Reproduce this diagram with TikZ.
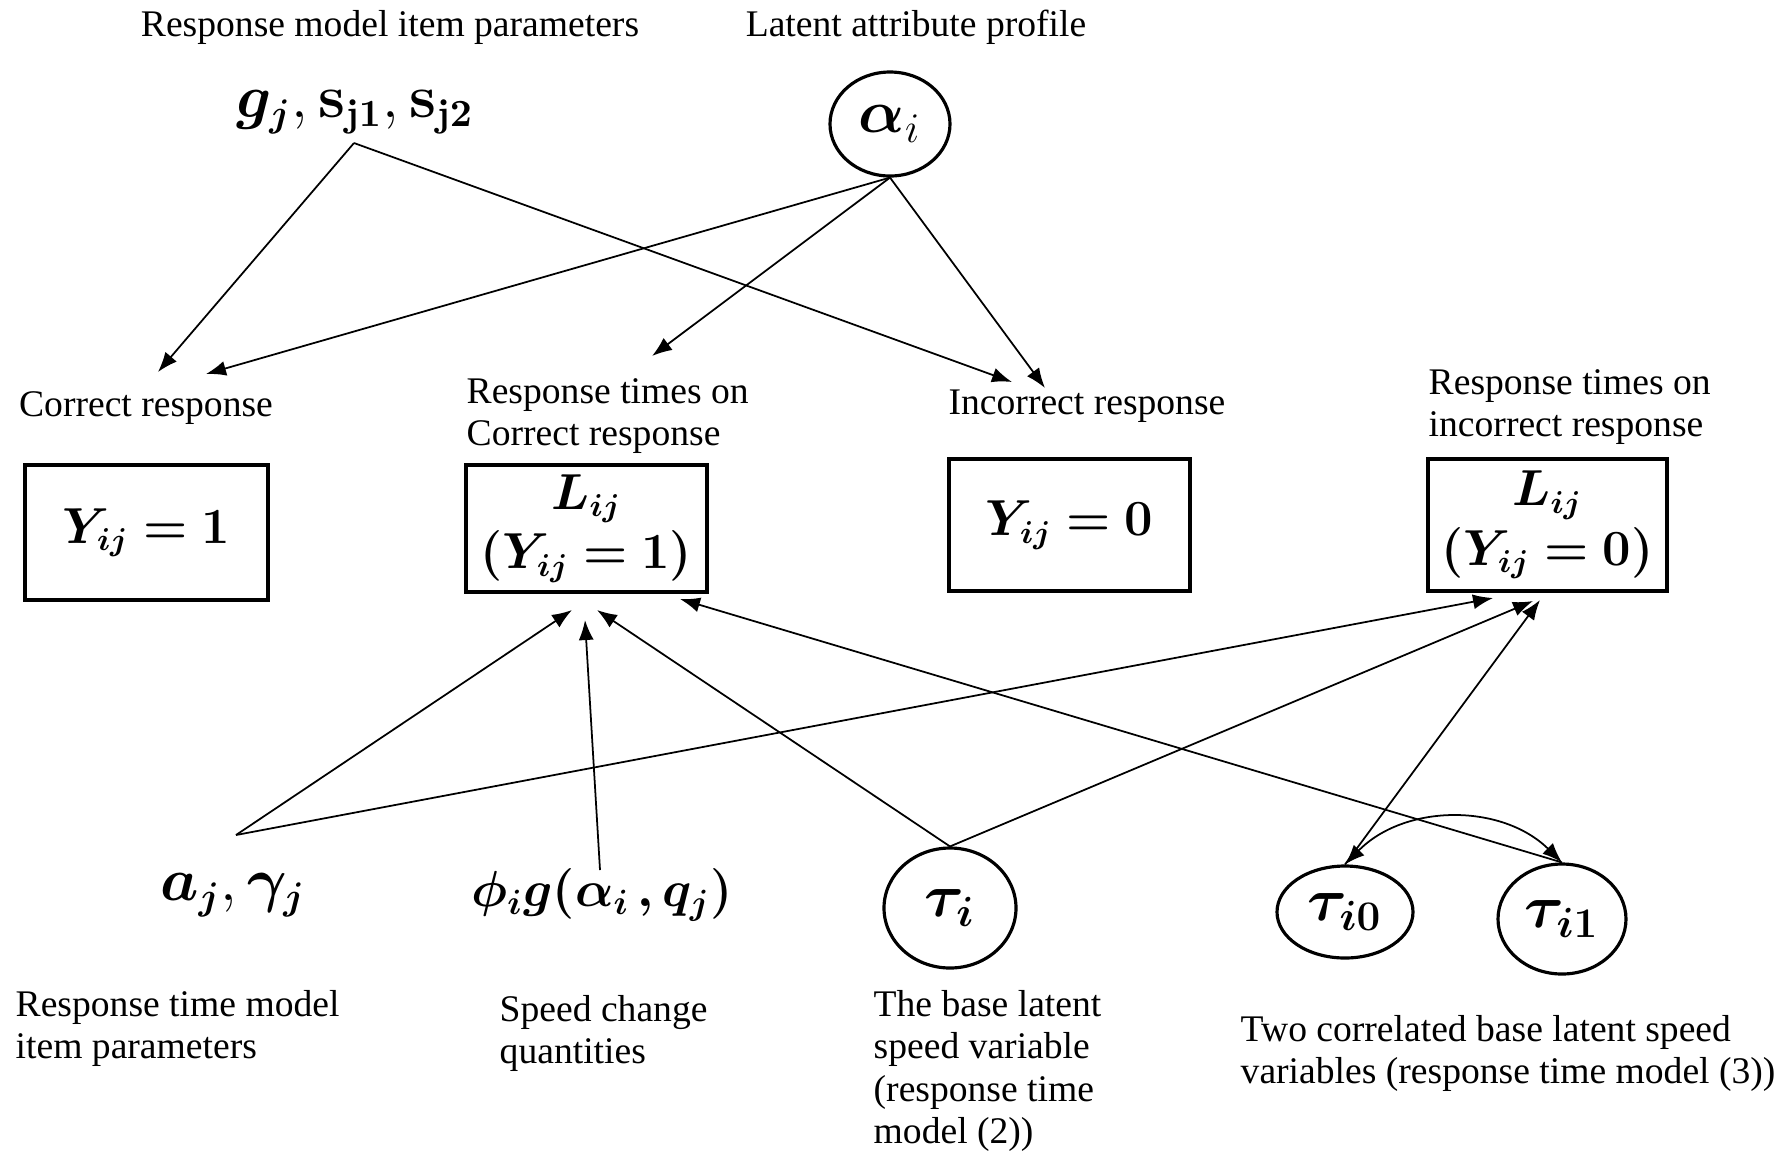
\documentclass[tikz,border=0pt]{standalone}
\usepackage[no-math]{fontspec}
\setmainfont{Liberation Serif}
\usepackage{bm}
\usetikzlibrary{arrows.meta,shapes.geometric}

\begin{document}
\begin{tikzpicture}[x=1cm,y=1cm,>={Latex[length=2mm,width=1.5mm]},
    lbl/.style={font=\fontsize{10.7}{12}\selectfont, inner sep=0pt, align=left},
    sym/.style={font=\fontsize{16}{19}\selectfont, inner sep=0pt},
    latent/.style={ellipse, draw, line width=0.9pt, inner sep=0pt, font=\fontsize{18.5}{21}\selectfont},
    obsbox/.style={draw, line width=1pt, inner sep=0pt, align=center, font=\fontsize{13.5}{17}\selectfont},
    link/.style={->, line width=0.5pt}]
    \useasboundingbox (0,0) rectangle (17.78,-11.51);

    % top row
    \node[lbl, anchor=base] (lblitem) at (3.90,-0.36) {Response model item parameters};
    \node[lbl, anchor=base] (lblprof) at (9.16,-0.36) {Latent attribute profile};
    \node[sym] (g) at (3.55,-1.12) {$\bm{g_j}, \mathbf{s}_{\mathbf{j1}}, \mathbf{s}_{\mathbf{j2}}$};
    \coordinate (gsrc) at (3.54,-1.43);
    \node[latent, minimum width=1.2cm, minimum height=1.04cm] (alpha) at (8.90,-1.24) {$\bm{\alpha}_i$};

    % middle row
    \node[lbl, anchor=base] (lblcor) at (1.46,-4.16) {Correct response};
    \node[lbl, anchor=north west] (lblrtc) at (4.66,-3.78) {Response times on\\Correct response};
    \node[lbl, anchor=base] (lblinc) at (10.87,-4.14) {Incorrect response};
    \node[lbl, anchor=north west] (lblrti) at (14.28,-3.69) {Response times on\\incorrect response};

    \node[obsbox, minimum width=2.43cm, minimum height=1.35cm] (y1) at (1.465,-5.325) {$\bm{Y_{ij} = 1}$};
    \node[obsbox, minimum width=2.41cm, minimum height=1.27cm] (l1) at (5.865,-5.285) {$\bm{L_{ij}}$\\$\bm{(Y_{ij} = 1)}$};
    \node[obsbox, minimum width=2.41cm, minimum height=1.32cm] (y0) at (10.695,-5.25) {$\bm{Y_{ij} = 0}$};
    \node[obsbox, minimum width=2.39cm, minimum height=1.32cm] (l0) at (15.475,-5.25) {$\bm{L_{ij}}$\\$\bm{(Y_{ij} = 0)}$};

    % arrow ends above the labels and below the boxes
    \coordinate (cor1) at (1.58,-3.72);
    \coordinate (cor2) at (2.06,-3.74);
    \coordinate (rtc) at (6.52,-3.56);
    \coordinate (inc1) at (10.12,-3.82);
    \coordinate (inc2) at (10.45,-3.88);
    \coordinate (l1a) at (5.72,-6.10);
    \coordinate (l1b) at (5.85,-6.20);
    \coordinate (l1c) at (5.97,-6.10);
    \coordinate (l1d) at (6.80,-5.99);
    \coordinate (l0a) at (14.93,-5.98);
    \coordinate (l0b) at (15.33,-6.01);
    \coordinate (l0c) at (15.40,-6.00);

    % bottom row
    \node[sym] (ag) at (2.33,-8.95) {$\bm{a_j}, \bm{\gamma_j}$};
    \coordinate (agsrc) at (2.36,-8.35);
    \node[sym, font=\fontsize{14.5}{18}\selectfont] (phi) at (6.02,-8.95) {$\bm{\phi_i g(\alpha_i\,, q_j)}$};
    \coordinate (phisrc) at (6.00,-8.70);
    \node[latent, minimum width=1.32cm, minimum height=1.20cm] (tau) at (9.50,-9.08) {$\bm{\tau_i}$};
    \node[latent, minimum width=1.36cm, minimum height=0.92cm] (tau0) at (13.45,-9.12) {$\bm{\tau_{i0}}$};
    \node[latent, minimum width=1.28cm, minimum height=1.10cm] (tau1) at (15.62,-9.19) {$\bm{\tau_{i1}}$};

    \node[lbl, anchor=north west] (lblag) at (0.15,-9.90) {Response time model\\item parameters};
    \node[lbl, anchor=north west] (lblphi) at (4.99,-9.95) {Speed change\\quantities};
    \node[lbl, anchor=north west] (lbltau) at (8.73,-9.90) {The base latent\\speed variable\\(response time\\model (2))};
    \node[lbl, anchor=north west] (lbltau01) at (12.40,-10.15) {Two correlated base latent speed\\variables (response time model (3))};

    % response model arrows
    \draw[link] (gsrc) -- (cor1);
    \draw[link] (gsrc) -- (inc1);
    \draw[link] (alpha.south) -- (cor2);
    \draw[link] (alpha.south) -- (rtc);
    \draw[link] (alpha.south) -- (inc2);

    % response time model arrows
    \draw[link] (agsrc) -- (l1a);
    \draw[link] (agsrc) -- (l0a);
    \draw[link] (phisrc) -- (l1b);
    \draw[link] (tau.north) -- (l1c);
    \draw[link] (tau.north) -- (l0b);
    \draw[link] (tau1.north) -- (l1d);
    \draw[link] (tau0.north) -- (l0c);
    \draw[link, <->] (tau0.north) to[bend left=45] (tau1.north);
\end{tikzpicture}
\end{document}
